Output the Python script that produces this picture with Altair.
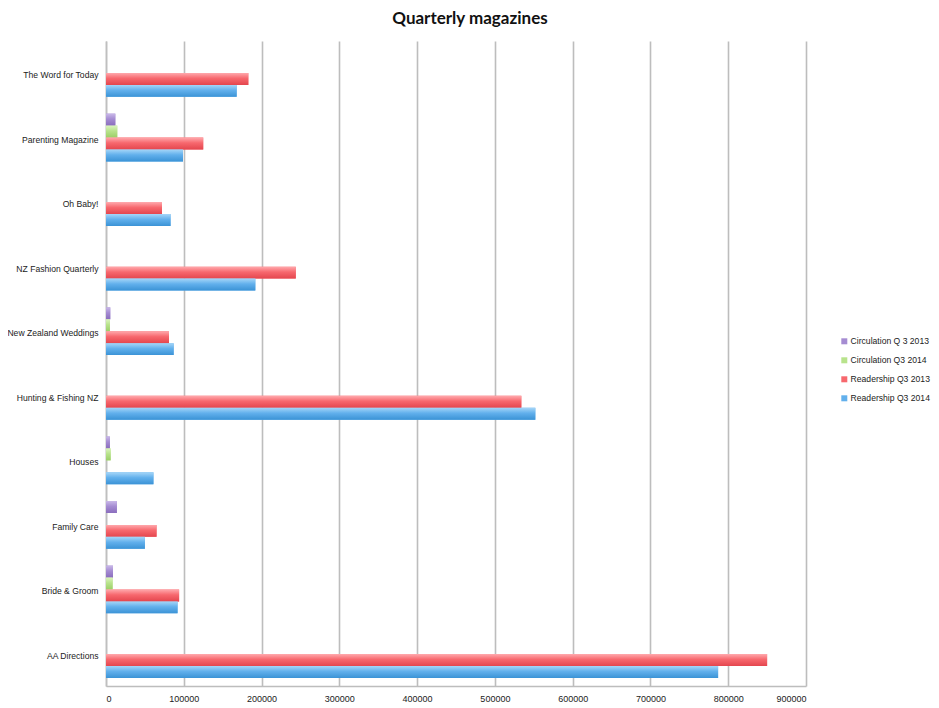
import altair as alt
import pandas as pd

magazines = ["The Word for Today", "Parenting Magazine", "Oh Baby!", "NZ Fashion Quarterly",
             "New Zealand Weddings", "Hunting & Fishing NZ", "Houses", "Family Care",
             "Bride & Groom", "AA Directions"]
series = ["Circulation Q 3 2013", "Circulation Q3 2014", "Readership Q3 2013", "Readership Q3 2014"]

circ_2013 = [0, 12000, 0, 0, 5500, 0, 5000, 14000, 9000, 0]
circ_2014 = [0, 14500, 0, 0, 5000, 0, 6000, 0, 8500, 0]
read_2013 = [183000, 125000, 72000, 244000, 81000, 534000, 0, 65000, 94000, 850000]
read_2014 = [168000, 99000, 83000, 192000, 87000, 552000, 61000, 50000, 92000, 787000]

flat_colors = ["#a58cd2", "#b8e38c", "#f7686e", "#62b0ec"]
grad_colors = [
    ("#c9b8e8", "#a58cd2", "#8a6dbd"),
    ("#dcf4bf", "#b8e38c", "#9ccf68"),
    ("#ffa9ad", "#f7686e", "#e4464e"),
    ("#a6d6f8", "#62b0ec", "#3b93d6"),
]

rows = []
for vals, s in zip([circ_2013, circ_2014, read_2013, read_2014], series):
    for m, v in zip(magazines, vals):
        rows.append({"magazine": m, "series": s, "value": v})
df = pd.DataFrame(rows)

FONT = "Liberation Sans"

base = alt.Chart(df).encode(
    y=alt.Y("magazine:N", sort=magazines,
            scale=alt.Scale(paddingInner=0.26, paddingOuter=0.125),
            axis=alt.Axis(title=None, ticks=False, labelPadding=8, labelOffset=2, domain=True,
                          domainColor="#bfbfbf", domainWidth=1.5, labelFont=FONT,
                          labelFontSize=8.6, labelColor="#222222")),
    yOffset=alt.YOffset("series:N", sort=series,
                        scale=alt.Scale(domain=series, paddingInner=0, paddingOuter=0)),
    x=alt.X("value:Q", scale=alt.Scale(domain=[0, 900000], nice=False),
            axis=alt.Axis(title=None, values=list(range(0, 900001, 100000)), format="d",
                          ticks=False, labelPadding=8, grid=True, gridColor="#bdbdbd",
                          gridWidth=1.6, domainColor="#bdbdbd", domainWidth=1.6,
                          labelFont=FONT, labelFontSize=9, labelColor="#222222")),
)

legend_layer = base.mark_bar().encode(
    color=alt.Color("series:N", sort=series,
                    scale=alt.Scale(domain=series, range=flat_colors),
                    legend=alt.Legend(title=None, orient="none", legendX=734, legendY=296,
                                      symbolType="square", symbolSize=36, symbolStrokeWidth=0,
                                      labelFont=FONT, labelFontSize=8.6, labelColor="#222222",
                                      rowPadding=10, labelOffset=2))
)

layers = [legend_layer]
for s, (c0, c1, c2) in zip(series, grad_colors):
    grad = alt.Gradient(gradient="linear",
                        stops=[alt.GradientStop(color=c0, offset=0),
                               alt.GradientStop(color=c1, offset=0.45),
                               alt.GradientStop(color=c2, offset=1)],
                        x1=0, x2=0, y1=0, y2=1)
    layers.append(base.transform_filter(alt.datum.series == s).mark_bar(fill=grad))

chart = alt.layer(*layers).properties(
    width=700, height=645,
    title=alt.TitleParams("Quarterly magazines", font="Lato", fontSize=17, fontWeight="bold",
                          color="#111111", anchor="middle", dx=14, offset=13),
    autosize=alt.AutoSizeParams(type="none"),
    padding={"left": 98, "top": 33, "right": 125, "bottom": 30},
).configure_view(stroke=None)

chart.save("out.html", embed_options={"renderer": "svg", "actions": False})
